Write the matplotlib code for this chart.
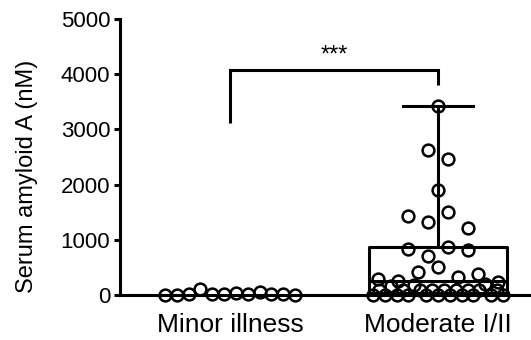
import numpy as np
import matplotlib.pyplot as plt

plt.rcParams['font.family'] = ['Liberation Sans', 'DejaVu Sans']

groups = ["Minor illness", "Moderate I/II"]
minor = [0, 0, 10, 100, 20, 10, 30, 15, 60, 20, 10, 0]
moderate = [3430,
            2620, 2460,
            1900,
            1430, 1330, 1500, 1220,
            830, 700, 870, 810,
            290, 250, 410, 500, 330, 380, 240,
            0, 90, 0, 170, 0, 90, 0, 180, 90, 0, 90, 0,
            90, 0, 90, 0, 90, 0, 90, 190, 0, 90, 0]
# box: 25th percentile, median, 75th percentile (whiskers min to max)
moderate_box = [30, 255, 866]
yticks = [0, 1000, 2000, 3000, 4000, 5000]
# significance bracket: left leg end, bar height, right leg end
bracket = [3120, 4080, 3810]
stars = "***"

fig = plt.figure(figsize=(5.31, 3.40), dpi=100)
ax = fig.add_axes([0.226, 0.1324, 0.774, 0.812])
ax.set_xlim(-0.529, 1.447)
ax.set_ylim(0, 5000)

lw = 2.2
q1, med, q3 = moderate_box
stats = [dict(whislo=min(moderate), q1=q1, med=med, q3=q3,
              whishi=max(moderate), fliers=[])]
line = dict(color='black', linewidth=lw)
ax.bxp(stats, positions=[1], widths=0.668, capwidths=0.337,
       showfliers=False, boxprops=line, medianprops=line,
       whiskerprops=line, capprops=line, manage_ticks=False)


def scatter_offsets(values, row_px=16.6, step_px=20, span_px=130):
    # group points into horizontal rows and spread each row around the centre
    x0, y0 = ax.transData.transform((0, 0))
    x1, y1 = ax.transData.transform((1, 1))
    px_x, px_y = x1 - x0, y1 - y0
    order = sorted(range(len(values)), key=lambda i: -values[i])
    rows, top = [], None
    for i in order:
        if top is None or (top - values[i]) * px_y > row_px:
            rows.append([])
            top = values[i]
        rows[-1].append(i)
    offs = np.zeros(len(values))
    for r in rows:
        r = sorted(r)
        n = len(r)
        if n > 1:
            sp = min(step_px, span_px / (n - 1))
            for k, i in enumerate(r):
                offs[i] = (k - (n - 1) / 2) * sp / px_x
    return offs


for pos, vals in enumerate([minor, moderate]):
    xs = pos + scatter_offsets(vals)
    ax.plot(xs, vals, 'o', ms=8.5, mfc='none', mec='black', mew=1.8,
            clip_on=False, zorder=3)

lo, top, hi = bracket
ax.plot([0, 0, 1, 1], [lo, top, top, hi], color='black', lw=lw,
        solid_capstyle='butt', solid_joinstyle='miter')
ax.annotate(stars, xy=(0.5, top), xytext=(0, 2), textcoords='offset points',
            ha='center', va='bottom', fontsize=17)

ax.set_xticks([0, 1])
ax.set_xticklabels(groups, fontsize=19)
ax.set_yticks(yticks)
ax.set_yticklabels([str(t) for t in yticks], fontsize=16)
ax.tick_params(axis='x', length=0, pad=13)
ax.tick_params(axis='y', width=lw, length=4, pad=3)
ax.set_ylabel("Serum amyloid A (nM)", fontsize=17)
ax.yaxis.set_label_coords(-0.2, 0.428)
for s in ['top', 'right']:
    ax.spines[s].set_visible(False)
for s in ['left', 'bottom']:
    ax.spines[s].set_linewidth(lw)

fig.savefig('out.png', dpi=100)
